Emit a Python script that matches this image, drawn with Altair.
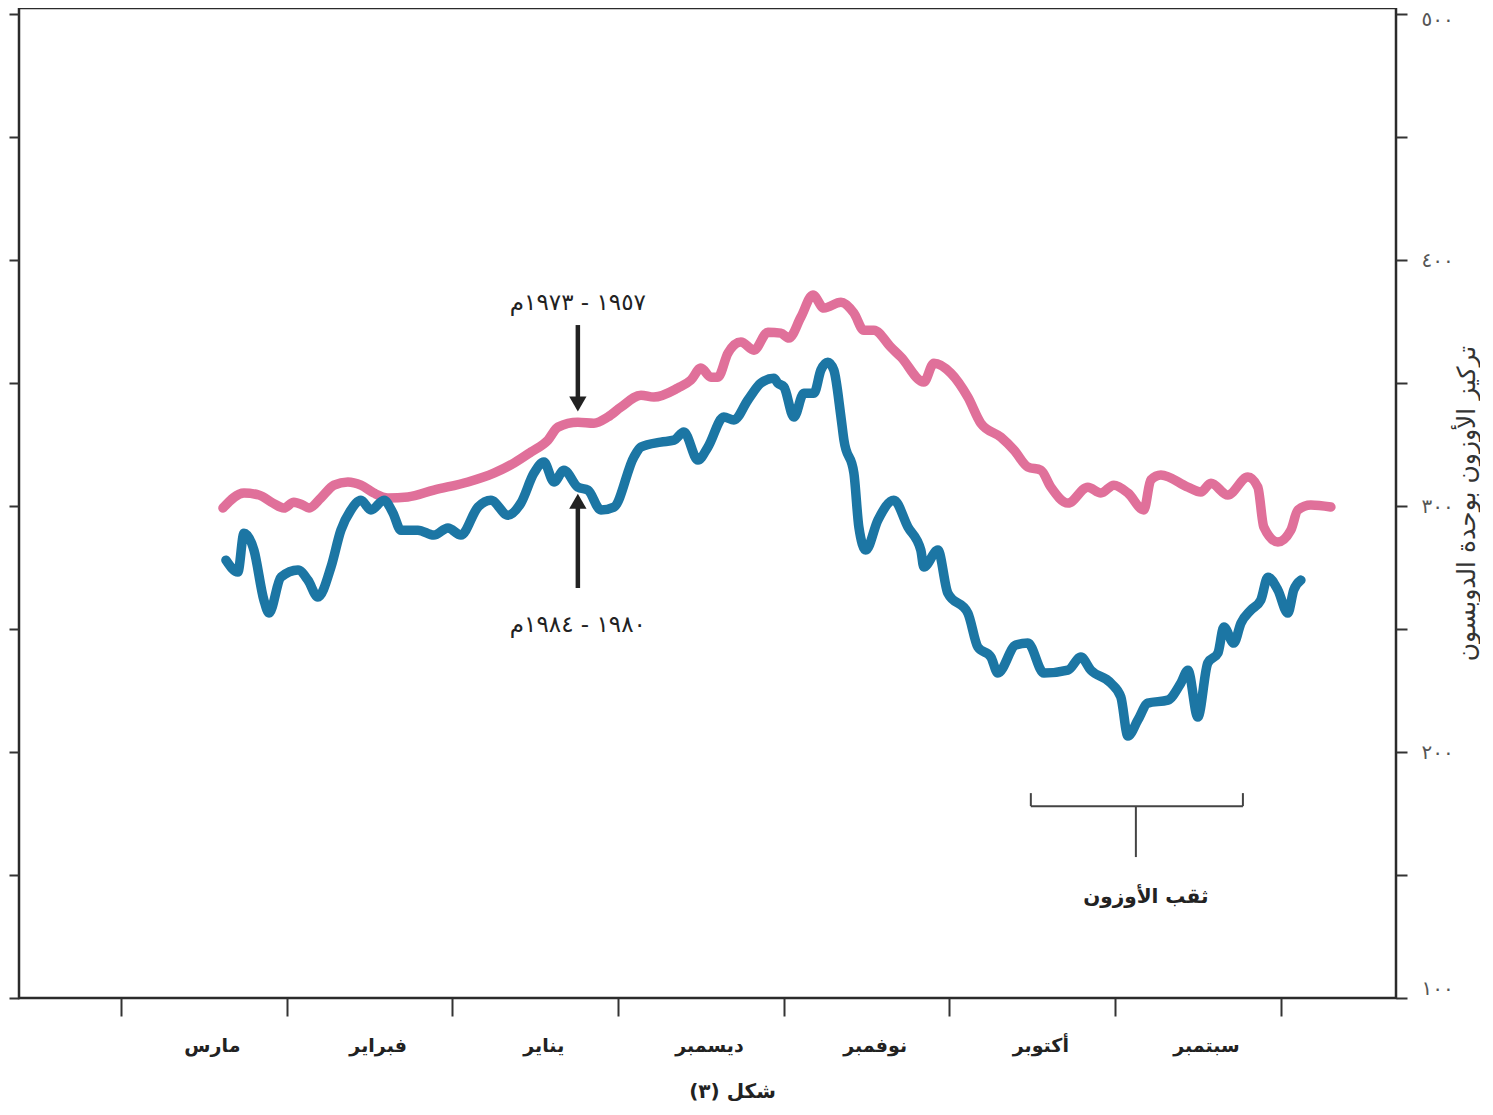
import altair as alt
import pandas as pd

# x: months elapsed since 1 September (time runs right-to-left); y: ozone in Dobson units
pink_m = [6.385, 6.258, 6.168, 6.083, 6.017, 5.957, 5.902, 5.866, 5.794, 5.715, 5.631, 5.552, 5.474,
          5.389, 5.269, 5.112, 4.906, 4.750, 4.629, 4.526, 4.424, 4.363, 4.243, 4.146, 4.062, 3.983,
          3.862, 3.784, 3.639, 3.561, 3.500, 3.440, 3.398, 3.337, 3.259, 3.180, 3.096, 3.018, 2.969,
          2.897, 2.824, 2.758, 2.655, 2.577, 2.517, 2.456, 2.354, 2.293, 2.155, 2.094, 1.992, 1.889,
          1.811, 1.690, 1.611, 1.527, 1.448, 1.388, 1.285, 1.165, 1.086, 1.008, 0.923, 0.827, 0.785,
          0.724, 0.561, 0.483, 0.422, 0.320, 0.199, 0.139, 0.103, 0.018, -0.060, -0.103, -0.181, -0.302]
pink_v = [299.2, 305.3, 304.5, 301.2, 299.2, 301.6, 300.4, 299.2, 303.3, 308.5, 309.8, 308.5, 305.3,
          303.3, 303.7, 306.5, 309.8, 313.4, 317.5, 322.0, 326.8, 332.1, 334.1, 333.7, 336.2, 340.2,
          345.1, 344.3, 348.0, 351.2, 356.1, 352.4, 352.4, 362.2, 366.7, 363.4, 370.7, 370.3, 368.3,
          376.8, 385.8, 380.5, 382.9, 378.5, 371.5, 371.5, 364.6, 360.6, 350.4, 358.1, 354.1, 344.3,
          333.7, 328.0, 322.8, 315.9, 314.6, 307.7, 301.2, 307.7, 305.3, 308.5, 305.3, 298.4, 310.6,
          312.6, 307.7, 305.7, 309.3, 304.5, 311.8, 307.7, 291.5, 285.4, 290.2, 298.4, 300.4, 299.6]

blue_m = [6.367, 6.295, 6.258, 6.198, 6.138, 6.107, 6.035, 5.932, 5.872, 5.812, 5.733, 5.673, 5.613,
          5.552, 5.492, 5.413, 5.359, 5.311, 5.208, 5.112, 5.027, 4.949, 4.846, 4.768, 4.665, 4.587,
          4.508, 4.448, 4.387, 4.327, 4.243, 4.182, 4.104, 4.025, 3.905, 3.862, 3.742, 3.663, 3.603,
          3.518, 3.458, 3.362, 3.301, 3.217, 3.138, 3.060, 3.036, 2.999, 2.939, 2.879, 2.818, 2.776, 2.734,
          2.698, 2.655, 2.637, 2.577, 2.547, 2.505, 2.432, 2.336, 2.251, 2.173, 2.155, 2.070, 2.010,
          1.889, 1.829, 1.750, 1.708, 1.600, 1.527, 1.430, 1.285, 1.207, 1.147, 1.026, 0.966, 0.923,
          0.863, 0.803, 0.682, 0.604, 0.561, 0.501, 0.441, 0.380, 0.344, 0.284, 0.241, 0.181, 0.121,
          0.078, 0.018, -0.042, -0.078, -0.121]
blue_v = [278.0, 273.2, 289.0, 282.1, 261.8, 256.5, 271.1, 274.0, 269.9, 263.0, 275.2, 290.2, 298.4,
          302.4, 298.4, 302.4, 297.2, 290.2, 290.2, 288.2, 291.1, 288.2, 299.6, 302.4, 296.3, 301.2,
          313.4, 317.9, 309.8, 314.6, 307.7, 306.5, 298.4, 299.6, 319.9, 324.0, 326.0, 326.8, 330.1,
          318.7, 324.0, 336.2, 335.0, 343.1, 350.0, 352.0, 350.0, 348.4, 336.2, 345.9, 345.9, 355.3, 358.5,
          355.3, 336.2, 326.8, 313.4, 291.5, 282.1, 294.3, 302.4, 291.5, 282.1, 275.2, 282.1, 264.6,
          256.5, 242.7, 238.6, 232.1, 243.5, 244.3, 232.1, 233.3, 238.6, 233.3, 228.0, 222.4, 206.5,
          213.0, 219.9, 221.1, 228.0, 233.3, 214.2, 236.2, 240.2, 250.8, 244.3, 252.4, 257.7, 261.8,
          271.1, 265.9, 256.5, 265.9, 269.9]

series_names = ["1957-1973", "1980-1984"]
series_colors = ["#E0709A", "#1C76A4"]

months = ["سبتمبر", "أكتوبر", "نوفمبر", "ديسمبر", "يناير", "فبراير", "مارس"]
y_tick_values = [100, 150, 200, 250, 300, 350, 400, 450, 500]
y_tick_text = ["", "١٠٠", "٢٠٠", "٣٠٠", "٤٠٠", "٥٠٠"]

# annotations (data coordinates)
arrow_m = 4.243
arrow_shafts = {"m": [arrow_m, arrow_m], "v1": [373.6, 266.7], "v2": [343.0, 300.0]}
arrow_heads = {"m": [arrow_m, arrow_m], "v": [341.5, 302.0], "shape": ["triangle-down", "triangle-up"]}
year_labels = {"m": [arrow_m, arrow_m], "v": [382.5, 251.6], "text": ["١٩٥٧ - ١٩٧٣م", "١٩٨٠ - ١٩٨٤م"]}
bracket = {"m1": [1.509, 1.509, 0.229, 0.875], "m2": [0.229, 1.509, 0.229, 0.875],
           "v1": [178.0, 178.0, 178.0, 178.0], "v2": [178.0, 183.3, 183.3, 157.3]}
hole_label = {"m": [0.815], "v": [141.1], "text": ["ثقب الأوزون"]}

FONT = "DejaVu Sans"

df = pd.DataFrame({
    "m": pink_m + blue_m,
    "v": pink_v + blue_v,
    "series": [series_names[0]] * len(pink_m) + [series_names[1]] * len(blue_m),
})

xs = alt.Scale(domain=[-0.695, 7.616], reverse=True, nice=False, zero=False)
ys = alt.Scale(domain=[100, 502.5], nice=False, zero=False)

month_expr = "[" + ",".join("'" + s + "'" for s in months) + "][floor(datum.value)]"
x_axis = alt.Axis(
    values=[i * 0.5 for i in range(15)],
    grid=False, domain=False,
    tickSize=18, tickWidth=2, tickColor="#333",
    tickOpacity={"condition": {"test": "datum.value % 1 == 0", "value": 1}, "value": 0},
    labelExpr="datum.value % 1 == 0 ? '' : " + month_expr,
    labelFont=FONT, labelFontSize=19, labelFontWeight="bold", labelColor="#222",
    labelPadding=20, labelBaseline="top", labelOffset=8,
    title="شكل (٣)", titleFont=FONT, titleFontSize=20, titleFontWeight="bold",
    titleColor="#222", titlePadding=26, titleX=713, titleAlign="center",
)
y_axis_right = alt.Axis(
    orient="right", values=y_tick_values, grid=False, domain=False,
    tickSize=11, tickWidth=2, tickColor="#333",
    labelExpr="datum.value % 100 == 0 ? " + "[" + ",".join("'" + s + "'" for s in y_tick_text) + "][datum.value/100] : ''",
    labelFont=FONT, labelFontSize=20, labelColor="#555", labelPadding=14, labelFlush=True,
    labelOffset={"condition": {"test": "datum.value == 500", "value": 5}, "value": 0},
    title="تركيز الأوزون بوحدة الدوبسون", titleFont=FONT, titleFontSize=25,
    titleFontWeight="normal", titleColor="#333", titleAngle=270, titlePadding=26,
)
y_axis_left = alt.Axis(
    orient="left", values=y_tick_values, grid=False, domain=False,
    tickSize=10, tickWidth=2, tickColor="#333", labels=False, title=None,
)

lines = alt.Chart(df).mark_line(
    strokeWidth=9.5, interpolate="monotone", strokeCap="round", strokeJoin="round"
).encode(
    x=alt.X("m:Q", scale=xs, axis=x_axis),
    y=alt.Y("v:Q", scale=ys, axis=y_axis_right),
    color=alt.Color("series:N", scale=alt.Scale(domain=series_names, range=series_colors), legend=None),
)

shafts = alt.Chart(pd.DataFrame(arrow_shafts)).mark_rule(strokeWidth=4.5, color="#222").encode(
    x=alt.X("m:Q", scale=xs, axis=None),
    y=alt.Y("v1:Q", scale=ys, axis=y_axis_left),
    y2="v2:Q",
)

heads = alt.Chart(pd.DataFrame(arrow_heads)).mark_point(filled=True, opacity=1, color="#222", size=300).encode(
    x=alt.X("m:Q", scale=xs, axis=None),
    y=alt.Y("v:Q", scale=ys, axis=None),
    shape=alt.Shape("shape:N", scale=None, legend=None),
)

years = alt.Chart(pd.DataFrame(year_labels)).mark_text(
    font=FONT, fontSize=23, color="#222", align="center", baseline="middle"
).encode(
    x=alt.X("m:Q", scale=xs, axis=None),
    y=alt.Y("v:Q", scale=ys, axis=None),
    text="text:N",
)

brackets = alt.Chart(pd.DataFrame(bracket)).mark_rule(strokeWidth=2, color="#444").encode(
    x=alt.X("m1:Q", scale=xs, axis=None),
    x2="m2:Q",
    y=alt.Y("v1:Q", scale=ys, axis=None),
    y2="v2:Q",
)

hole = alt.Chart(pd.DataFrame(hole_label)).mark_text(
    font=FONT, fontSize=20, fontWeight="bold", color="#222", align="center", baseline="middle"
).encode(
    x=alt.X("m:Q", scale=xs, axis=None),
    y=alt.Y("v:Q", scale=ys, axis=None),
    text="text:N",
)

chart = alt.layer(lines, shafts, heads, years, brackets, hole).resolve_axis(
    x="independent", y="independent"
).properties(
    width=1377, height=990,
    padding={"left": 0, "top": 0, "right": 0, "bottom": 0},
    background="white",
).configure_view(
    stroke="#2b2b2b", strokeWidth=2.5
)

chart.save("out.html", embed_options={"renderer": "svg", "actions": False})
